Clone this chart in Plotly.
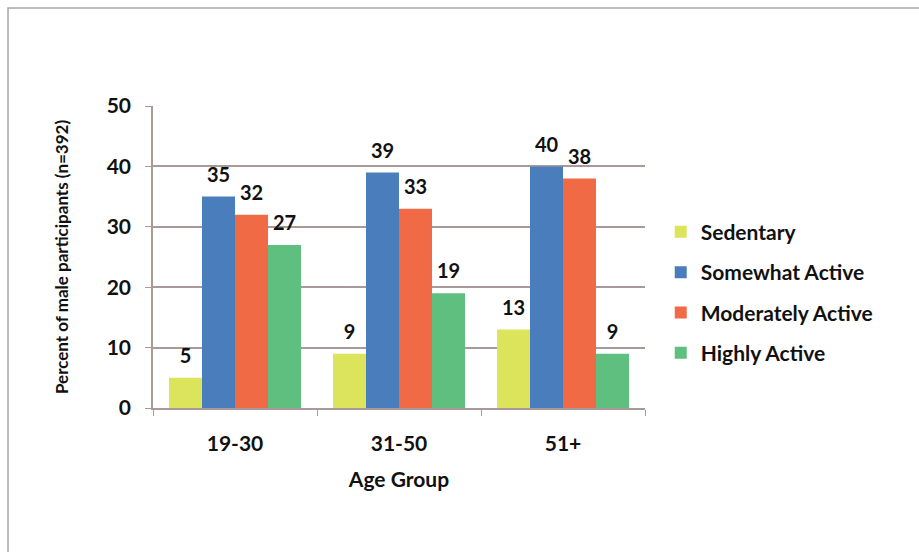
import plotly.graph_objects as go

# Activity level by age group, percent of male participants
age_groups = ["19-30", "31-50", "51+"]
sedentary = [5, 9, 13]
somewhat_active = [35, 39, 40]
moderately_active = [32, 33, 38]
highly_active = [27, 19, 9]

series_names = ["Sedentary", "Somewhat Active", "Moderately Active", "Highly Active"]
series_values = [sedentary, somewhat_active, moderately_active, highly_active]
series_colors = ["#dce45c", "#4a7dbb", "#f06b45", "#5fbf7f"]

y_ticks = [0, 10, 20, 30, 40, 50]

FONT = "Lato, 'Open Sans', sans-serif"
INK = "#111111"
GRID = "#a99a98"

fig = go.Figure()

for i, (name, vals, col) in enumerate(zip(series_names, series_values, series_colors)):
    fig.add_trace(go.Bar(
        x=age_groups, y=vals, name=name,
        marker=dict(color=col, line=dict(width=0)),
        offsetgroup=str(i), legendgroup=str(i),
        hoverinfo="skip",
    ))

# value labels above each bar, grouped to line up with the bars
for i, vals in enumerate(series_values):
    fig.add_trace(go.Scatter(
        x=age_groups, y=vals, mode="markers+text",
        text=[str(v) for v in vals], textposition="top center",
        textfont=dict(family=FONT, size=20, color=INK, weight="bold"),
        marker=dict(size=14, color="rgba(0,0,0,0)"),
        offsetgroup=str(i), showlegend=False, hoverinfo="skip",
    ))

# light grey frame around the figure
fig.add_shape(type="rect", xref="paper", yref="paper",
              x0=-0.2947, x1=1.6, y0=-0.6, y1=1.3245,
              line=dict(color="#a8a8a8", width=1.5), fillcolor="rgba(0,0,0,0)")

fig.update_layout(
    width=919, height=552,
    margin=dict(l=153, r=274, t=106, b=144),
    paper_bgcolor="white", plot_bgcolor="white",
    barmode="group", scattermode="group", bargap=0.195, bargroupgap=0,
    font=dict(family=FONT, color=INK),
    legend=dict(
        x=1.032, y=0.65, xanchor="left", yanchor="top",
        font=dict(family=FONT, size=21, color=INK, weight="bold"),
        traceorder="grouped", tracegroupgap=10,
        itemwidth=30, bgcolor="rgba(0,0,0,0)",
    ),
    xaxis=dict(
        type="category", showgrid=False, showline=True,
        linecolor=GRID, linewidth=1.5,
        ticks="outside", tickson="boundaries", ticklen=6, tickcolor=GRID,
        tickfont=dict(family=FONT, size=21, color=INK, weight="bold"),
        ticklabelstandoff=16,
        title=dict(text="Age Group", standoff=18,
                   font=dict(family=FONT, size=21, color=INK, weight="bold")),
    ),
    yaxis=dict(
        range=[0, 50], tickvals=y_ticks, showgrid=True,
        gridcolor=GRID, gridwidth=1.5, showline=True,
        linecolor=GRID, linewidth=1.5, zeroline=False,
        ticks="outside", ticklen=6, tickcolor=GRID,
        tickfont=dict(family=FONT, size=21, color=INK, weight="bold"),
        ticklabelstandoff=10,
        title=dict(text="Percent of male participants (n=392)", standoff=34,
                   font=dict(family=FONT, size=17, color=INK, weight="bold")),
    ),
)

fig.write_html("out.html")
